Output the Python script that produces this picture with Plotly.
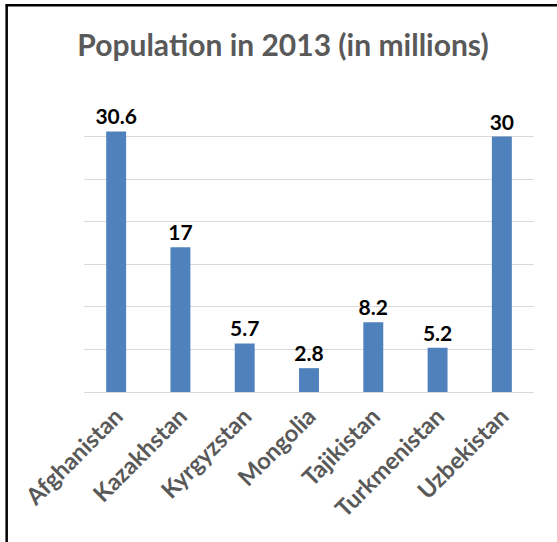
import plotly.graph_objects as go

countries = ["Afghanistan", "Kazakhstan", "Kyrgyzstan", "Mongolia", "Tajikistan", "Turkmenistan", "Uzbekistan"]
population = [30.6, 17, 5.7, 2.8, 8.2, 5.2, 30]
labels = ["30.6", "17", "5.7", "2.8", "8.2", "5.2", "30"]

W, H = 557, 542
L, R, T, B = 83.5, 22.5, 94, 149.5
pw, ph = W - L - R, H - T - B

def px_x(x):
    return (x - L) / pw

def px_y(y):
    return (H - B - y) / ph

FONT = "Lato"

fig = go.Figure(go.Bar(
    x=countries, y=population,
    text=labels, textposition="outside", constraintext="none",
    textfont=dict(family=FONT, size=21, color="black", weight="bold"),
    marker=dict(color="#4F81BD", line=dict(width=0)),
    cliponaxis=False,
))

fig.update_layout(
    width=W, height=H,
    margin=dict(l=L, r=R, t=T, b=B, pad=0),
    paper_bgcolor="white", plot_bgcolor="white",
    bargap=0.69,
    showlegend=False,
    title=dict(text="Population in 2013 (in millions)",
               font=dict(family=FONT, size=30, color="#595959", weight="bold"),
               x=283 / W, xref="container", xanchor="center",
               y=1 - 45 / H, yref="container", yanchor="middle"),
    xaxis=dict(tickangle=-45, tickfont=dict(family=FONT, size=23.5, color="#595959", weight="bold"),
               showline=False, ticks="", showgrid=False, ticklabelstandoff=5),
    yaxis=dict(range=[0, 35], dtick=5, showticklabels=False, showgrid=True,
               gridcolor="#D9D9D9", gridwidth=1.3, zeroline=True, zerolinecolor="#D9D9D9",
               zerolinewidth=1.3, ticks=""),
    shapes=[
        dict(type="line", xref="paper", yref="paper", x0=px_x(6), x1=px_x(6), y0=px_y(4), y1=px_y(620),
             line=dict(color="black", width=2.5)),
        dict(type="line", xref="paper", yref="paper", x0=px_x(5), x1=px_x(620), y0=px_y(5), y1=px_y(5),
             line=dict(color="black", width=2.5)),
    ],
)

fig.write_html("out.html")
